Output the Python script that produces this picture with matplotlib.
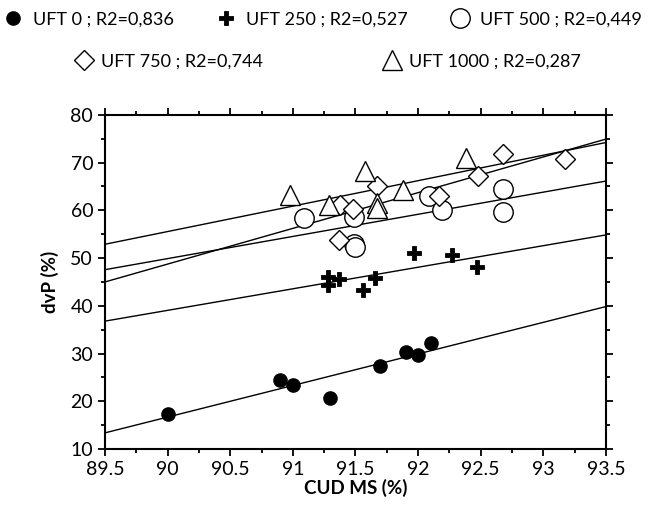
import matplotlib.pyplot as plt
import numpy as np
from matplotlib.ticker import MultipleLocator

# CUD MS (%) / dvP (%), one pair of lists per UFT group
uft0_x = [90.0, 90.9, 91.0, 91.3, 91.7, 91.9, 92.0, 92.1]
uft0_y = [17.3, 24.5, 23.5, 20.7, 27.5, 30.3, 29.7, 32.2]

uft250_x = [91.28, 91.28, 91.37, 91.56, 91.66, 91.97, 92.27, 92.47]
uft250_y = [46.0, 44.4, 45.6, 43.4, 45.8, 51.0, 50.6, 48.2]

uft500_x = [91.09, 91.49, 91.49, 91.50, 92.09, 92.19, 92.68, 92.68]
uft500_y = [58.4, 58.7, 53.0, 52.4, 63.0, 60.1, 64.4, 59.7]

uft750_x = [91.38, 91.48, 91.37, 91.67, 92.17, 92.48, 92.68, 93.17]
uft750_y = [61.2, 60.3, 53.7, 65.0, 62.9, 67.1, 71.7, 70.7]

uft1000_x = [90.98, 91.29, 91.58, 91.67, 91.67, 91.88, 92.38]
uft1000_y = [63.3, 61.1, 68.3, 61.6, 60.4, 64.3, 70.9]

labels = ["UFT 0 ; R2=0,836", "UFT 250 ; R2=0,527", "UFT 500 ; R2=0,449",
          "UFT 750 ; R2=0,744", "UFT 1000 ; R2=0,287"]

x_range = [89.5, 93.5]


def main():
    plt.rcParams["font.family"] = ["Lato", "DejaVu Sans"]

    fig = plt.figure(figsize=(6.48, 5.15), dpi=100)
    ax = fig.add_axes([0.162, 0.128, 0.773, 0.649])

    series = [
        (uft0_x, uft0_y, dict(marker="o", ms=9.5, mfc="black", mec="black")),
        (uft250_x, uft250_y, dict(marker="P", ms=10, mfc="black", mec="black", mew=0.6)),
        (uft500_x, uft500_y, dict(marker="o", ms=14, mfc="white", mec="black", mew=1.0)),
        (uft750_x, uft750_y, dict(marker="D", ms=10, mfc="white", mec="black", mew=1.0)),
        (uft1000_x, uft1000_y, dict(marker="^", ms=14, mfc="white", mec="black", mew=1.0)),
    ]

    handles = []
    xs = np.array(x_range)
    for (x, y, style), label in zip(series, labels):
        slope, inter = np.polyfit(x, y, 1)
        ax.plot(xs, slope * xs + inter, color="black", lw=1.0, zorder=2)
        h, = ax.plot(x, y, ls="none", label=label, zorder=3, **style)
        handles.append(h)

    ax.set_xlim(x_range)
    ax.set_ylim(10, 80)
    ax.xaxis.set_major_locator(MultipleLocator(0.5))
    ax.xaxis.set_minor_locator(MultipleLocator(0.25))
    ax.yaxis.set_major_locator(MultipleLocator(10))
    ax.yaxis.set_minor_locator(MultipleLocator(5))
    ax.set_xticklabels([f"{v:g}" for v in ax.get_xticks()])

    for s in ax.spines.values():
        s.set_linewidth(1.5)
    ax.tick_params(which="both", direction="out", top=True, right=True,
                   width=1.3, labelsize=14)
    ax.tick_params(which="major", length=5)
    ax.tick_params(which="minor", length=3)

    ax.set_xlabel("CUD MS (%)", fontsize=13.5, fontweight="bold", labelpad=1)
    ax.set_ylabel("dvP (%)", fontsize=13.5, fontweight="bold", labelpad=8)

    fig.legend(handles[:3], labels[:3], loc="center", bbox_to_anchor=(0.498, 0.962),
               ncol=3, frameon=False, fontsize=13, handlelength=1,
               handletextpad=0.6, columnspacing=2.4)
    fig.legend(handles[3:], labels[3:], loc="center", bbox_to_anchor=(0.506, 0.88),
               ncol=2, frameon=False, fontsize=13, handlelength=1,
               handletextpad=0.45, columnspacing=6.6)

    fig.savefig("out.png", dpi=100)


if __name__ == "__main__":
    main()
